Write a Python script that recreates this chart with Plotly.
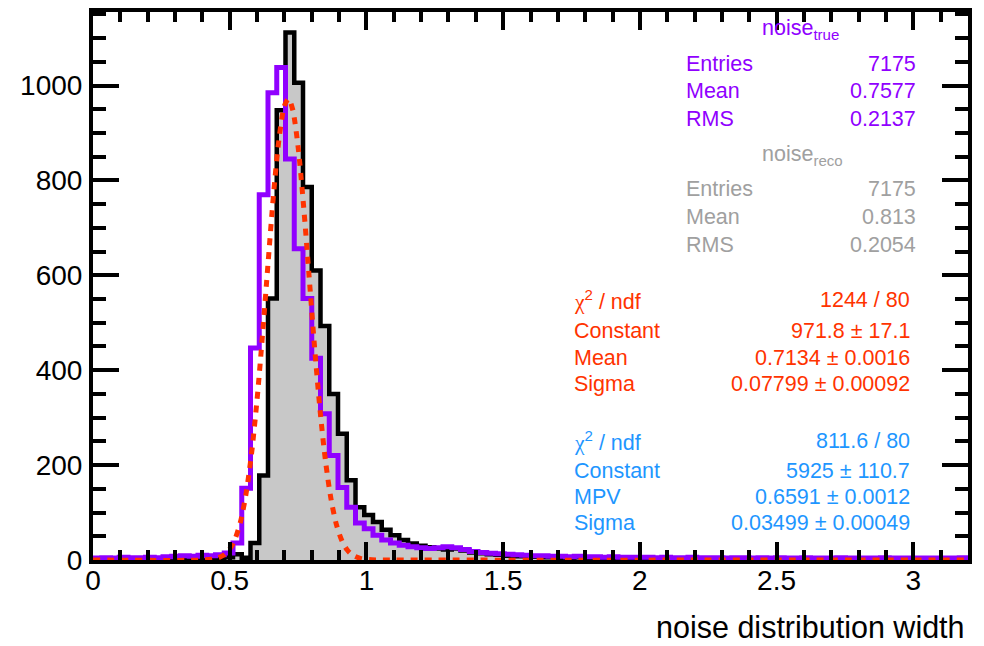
import numpy as np
import plotly.graph_objects as go

# ---------------- data ----------------
bin_width = 0.032
n_bins = 100

# noise_reco (black outline, grey fill), counts per bin of width 0.032 from 0 to 3.2
reco_counts = [0, 0, 0, 0, 0, 0, 0, 0, 0, 0, 0, 1, 1, 2, 4,
               6, 12, 5, 36, 178, 551, 948, 1112, 1006, 786,
               610, 493, 350, 266, 168, 111, 95, 80, 64, 52,
               42, 35, 30, 27, 24, 22, 24, 20, 16, 14,
               12, 11, 9, 8, 8, 7, 6, 6, 5, 5,
               6, 4, 5, 4, 4, 3, 4, 3, 3, 2,
               2, 3, 2, 1, 2, 2, 1, 1, 2, 1,
               1, 1, 0, 1, 1, 0, 1, 0, 0, 1,
               0, 0, 0, 0, 1, 0, 0, 0, 0, 0,
               0, 0, 0, 0, 0]

# noise_true (purple outline)
true_counts = [4, 5, 4, 6, 5, 5, 6, 5, 7, 8, 9, 8, 10, 9, 11,
               15, 36, 151, 447, 770, 985, 1038, 845, 656, 551,
               425, 308, 220, 153, 111, 78, 66, 52, 42, 36,
               31, 28, 26, 24, 26, 28, 26, 22, 18, 16,
               14, 13, 12, 11, 10, 9, 9, 8, 8, 7,
               8, 7, 7, 6, 7, 6, 6, 6, 6, 5,
               6, 5, 5, 6, 5, 5, 5, 4, 5, 5,
               4, 5, 4, 5, 4, 4, 5, 4, 4, 4,
               5, 4, 4, 4, 4, 5, 4, 4, 4, 4,
               4, 4, 4, 4, 5]

# gaussian fit curve (red dotted)
fit_x = [0.0, 0.40, 0.45, 0.48, 0.50, 0.52, 0.54, 0.56, 0.58, 0.60, 0.62, 0.64,
         0.66, 0.68, 0.70, 0.715, 0.73, 0.75, 0.77, 0.79, 0.81, 0.83, 0.85, 0.87,
         0.89, 0.91, 0.93, 0.95, 0.98, 1.02, 1.10, 3.2]
fit_y = [0, 0, 3, 11, 23, 45, 82, 141, 225, 338, 475, 624,
         769, 886, 957, 972, 950, 871, 747, 600, 451, 318, 210, 130,
         75, 41, 21, 10, 3, 0.5, 0, 0]

x_ticks = [0, 0.5, 1, 1.5, 2, 2.5, 3]
y_ticks = [0, 200, 400, 600, 800, 1000]

true_title = "noise<sub>true</sub>"
reco_title = "noise<sub>reco</sub>"
stat_labels = ["Entries", "Mean", "RMS"]
true_values = ["7175", "0.7577", "0.2137"]
reco_values = ["7175", "0.813", "0.2054"]
chi_label = "<span style=\"font-family:'Liberation Serif'\">χ</span><sup>2</sup> / ndf"
gaus_labels = [chi_label, "Constant", "Mean", "Sigma"]
gaus_values = ["1244 / 80", "971.8 ± 17.1", "0.7134 ± 0.0016", "0.07799 ± 0.00092"]
landau_labels = [chi_label, "Constant", "MPV", "Sigma"]
landau_values = ["811.6 / 80", "5925 ± 110.7", "0.6591 ± 0.0012", "0.03499 ± 0.00049"]
x_title = "noise distribution width"

# ---------------- styling ----------------
W, H = 984, 646
L, R, T, B = 93, 16, 8, 86
PW, PH = W - L - R, H - T - B
FONT = "Liberation Sans, Arial, sans-serif"
PURPLE = "#9000ff"
GREY_TXT = "#a0a0a0"
RED = "#ff3300"
BLUE = "#1e96ff"


def fx(px):
    return (px - L) / PW


def fy(py):
    return (H - B - py) / PH


edges = np.arange(n_bins + 1) * bin_width
reco_step = list(reco_counts) + [reco_counts[-1]]
true_step = list(true_counts) + [true_counts[-1]]

fig = go.Figure()
fig.add_trace(go.Scatter(x=edges, y=reco_step, mode="lines", line_shape="hv",
                         line=dict(color="black", width=4.5), fill="tozeroy",
                         fillcolor="#c8c8c8", showlegend=False, hoverinfo="skip"))
fig.add_trace(go.Scatter(x=edges, y=true_step, mode="lines", line_shape="hv",
                         line=dict(color=PURPLE, width=5), showlegend=False,
                         hoverinfo="skip"))
fig.add_trace(go.Scatter(x=fit_x, y=fit_y, mode="lines",
                         line=dict(color=RED, width=5, dash="7px,7px", shape="spline",
                                   smoothing=0.8),
                         showlegend=False, hoverinfo="skip"))

annotations = []


def add_text(text, px, py, color, anchor, size=21.5):
    annotations.append(dict(text=text, x=fx(px), y=fy(py), xref="paper", yref="paper",
                            xanchor=anchor, yanchor="middle", showarrow=False,
                            font=dict(family=FONT, size=size, color=color)))


add_text(true_title, 800, 26, PURPLE, "center")
for lab, val, py in zip(stat_labels, true_values, [60, 88, 116]):
    add_text(lab, 684, py, PURPLE, "left")
    add_text(val, 918, py, PURPLE, "right")

add_text(reco_title, 802, 153, GREY_TXT, "center")
for lab, val, py in zip(stat_labels, reco_values, [186, 214, 243]):
    add_text(lab, 684, py, GREY_TXT, "left")
    add_text(val, 918, py, GREY_TXT, "right")

for lab, val, py in zip(gaus_labels, gaus_values, [298, 329, 357, 383]):
    add_text(lab, 572, py, RED, "left")
    add_text(val, 912, py, RED, "right")

for lab, val, py in zip(landau_labels, landau_values, [440, 470, 497, 523]):
    add_text(lab, 572, py, BLUE, "left")
    add_text(val, 912, py, BLUE, "right")

add_text(x_title, 967, 627, "black", "right", size=30.5)

axis_common = dict(showline=True, linecolor="black", linewidth=4, mirror="ticks",
                   ticks="inside", tickcolor="black", tickwidth=3.5,
                   showgrid=False, zeroline=False,
                   tickfont=dict(family=FONT, size=28, color="black"))

fig.update_layout(
    width=W, height=H,
    margin=dict(l=L, r=R, t=T, b=B),
    paper_bgcolor="white", plot_bgcolor="white",
    annotations=annotations,
    xaxis=dict(range=[0, 3.2], tickvals=x_ticks, ticklen=18,
               minor=dict(dtick=0.1, tick0=0, ticklen=10, tickwidth=3.5,
                          tickcolor="black", ticks="inside"),
               ticklabelstandoff=-8, **axis_common),
    yaxis=dict(range=[0, 1155], tickvals=y_ticks, ticklen=26,
               minor=dict(dtick=50, tick0=0, ticklen=13, tickwidth=3.5,
                          tickcolor="black", ticks="inside"),
               ticklabelstandoff=1, **axis_common),
)

fig.write_html("out.html")
